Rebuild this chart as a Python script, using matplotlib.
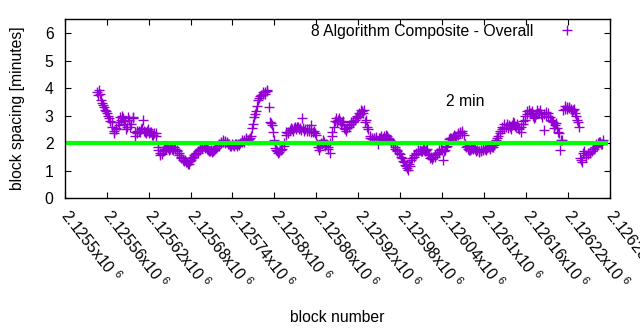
import matplotlib
matplotlib.use("Agg")
import matplotlib.pyplot as plt
import numpy as np

plt.rcParams['font.family'] = ['Liberation Sans', 'DejaVu Sans']
plt.rcParams['mathtext.default'] = 'regular'

# block numbers: first block, spacing between samples
FIRST_BLOCK = 2125546
BLOCK_STEP = 3

# block spacing in minutes (one cross every 3 blocks)
spacing = [
    3.85, 3.92, 3.55, 3.40, 3.20, 3.10, 2.90, 2.60, 2.36, 2.50,
    2.75, 2.95, 3.00, 2.70, 2.50, 2.95, 2.60, 2.90, 2.25, 2.35,
    2.45, 2.50, 2.83, 2.40, 2.45, 2.35, 2.40, 2.30, 2.35, 1.85,
    1.62, 1.60, 1.85, 1.80, 1.82, 1.78, 1.80, 1.85, 1.75, 1.65,
    1.45, 1.40, 1.38, 1.30, 1.25, 1.40, 1.50, 1.60, 1.70, 1.75,
    1.82, 1.90, 1.85, 1.75, 1.70, 1.68, 1.75, 1.82, 1.90, 2.05,
    2.10, 2.00, 2.05, 1.95, 1.90, 1.92, 1.95, 1.90, 1.92, 2.05,
    2.10, 2.15, 2.10, 2.18, 2.55, 2.95, 3.15, 3.55, 3.70, 3.80,
    3.85, 3.88, 3.30, 2.72, 2.40, 1.82, 1.70, 1.68, 1.75, 1.90,
    2.30, 2.40, 2.47, 2.52, 2.55, 2.50, 2.60, 2.55, 2.90, 2.45,
    2.50, 2.42, 2.65, 2.40, 2.35, 1.95, 1.75, 2.00, 2.10, 1.88,
    1.85, 1.62, 2.25, 2.60, 2.90, 2.85, 2.80, 2.75, 2.55, 2.45,
    2.60, 2.70, 2.80, 2.85, 3.00, 3.10, 3.20, 3.08, 2.75, 2.60,
    2.20, 2.15, 2.20, 2.22, 1.95, 2.18, 2.15, 2.25, 2.30, 2.20,
    2.10, 2.00, 1.86, 1.75, 1.65, 1.50, 1.35, 1.20, 1.08, 1.25,
    1.38, 1.55, 1.65, 1.70, 1.75, 1.72, 1.78, 1.74, 1.60, 1.45,
    1.42, 1.50, 1.60, 1.74, 1.80, 1.38, 1.75, 1.90, 2.15, 2.20,
    2.22, 2.25, 2.30, 2.35, 2.42, 2.30, 1.86, 1.80, 1.74, 1.82,
    1.86, 1.70, 1.68, 1.75, 1.74, 1.80, 1.81, 1.85, 1.90, 1.86,
    2.00, 2.18, 2.35, 2.50, 2.70, 2.60, 2.54, 2.60, 2.65, 2.72,
    2.60, 2.55, 2.41, 2.70, 2.85, 3.15, 3.20, 3.08, 3.00, 2.95,
    3.20, 3.10, 3.05, 2.47, 3.13, 3.00, 2.95, 2.80, 2.55, 2.72,
    2.40, 1.75, 2.10, 3.25, 3.30, 3.28, 3.22, 3.20, 3.10, 2.85,
    2.59, 1.38, 1.65, 1.56, 1.60, 1.62, 1.72, 1.80, 1.95, 2.00,
    2.05, 1.98,
]

# the blocks in between (one block later than the list above)
spacing_mid = [
    3.75, 3.80, 3.45, 3.30, 3.15, 3.00, 2.80, 2.75, 2.45, 2.55,
    2.65, 2.85, 2.90, 2.80, 2.60, 2.85, 2.70, 2.95, 2.40, 2.45,
    2.40, 2.55, 2.45, 2.35, 2.50, 2.40, 2.30, 2.35, 2.25, 1.75,
    1.55, 1.70, 1.80, 1.85, 1.75, 1.85, 1.75, 1.80, 1.70, 1.55,
    1.50, 1.35, 1.30, 1.25, 1.35, 1.45, 1.55, 1.65, 1.65, 1.80,
    1.85, 1.82, 1.80, 1.70, 1.75, 1.72, 1.80, 1.88, 1.95, 2.00,
    2.05, 2.08, 1.98, 1.90, 1.95, 1.88, 1.98, 1.95, 2.00, 2.10,
    2.05, 2.20, 2.15, 2.25, 2.70, 3.05, 3.35, 3.65, 3.75, 3.85,
    3.80, 3.92, 2.75, 2.65, 2.10, 1.75, 1.65, 1.75, 1.80, 2.00,
    2.40, 2.35, 2.55, 2.45, 2.60, 2.58, 2.50, 2.48, 2.55, 2.50,
    2.45, 2.50, 2.40, 2.45, 2.30, 1.85, 1.85, 1.95, 2.05, 1.95,
    1.80, 2.00, 2.40, 2.80, 2.75, 2.90, 2.70, 2.80, 2.50, 2.55,
    2.65, 2.75, 2.75, 2.90, 2.95, 3.05, 3.15, 3.20, 2.85, 2.50,
    2.25, 2.20, 2.15, 2.18, 2.20, 2.25, 2.20, 2.18, 2.25, 2.15,
    2.05, 1.95, 1.80, 1.70, 1.60, 1.45, 1.30, 1.15, 1.02, 1.18,
    1.45, 1.50, 1.60, 1.75, 1.70, 1.80, 1.70, 1.78, 1.55, 1.50,
    1.48, 1.55, 1.65, 1.68, 1.75, 1.72, 1.85, 2.05, 2.20, 2.15,
    2.28, 2.20, 2.35, 2.40, 2.38, 1.95, 1.90, 1.75, 1.80, 1.78,
    1.80, 1.75, 1.72, 1.70, 1.80, 1.76, 1.86, 1.80, 1.84, 1.92,
    2.10, 2.25, 2.45, 2.60, 2.55, 2.70, 2.65, 2.50, 2.75, 2.62,
    2.70, 2.50, 2.60, 2.80, 3.00, 3.05, 3.10, 3.15, 2.90, 3.05,
    3.10, 3.20, 2.95, 3.05, 3.00, 3.10, 2.85, 2.75, 2.65, 2.55,
    2.35, 2.10, 3.20, 3.35, 3.25, 3.30, 3.15, 3.25, 3.00, 2.75,
    1.45, 1.30, 1.70, 1.50, 1.65, 1.68, 1.78, 1.85, 1.90, 2.05,
    1.95, 2.10,
]

# 2 minute target line
target_blocks = [2125504, 2126275]
target_value = [2, 2]

x_min, x_max = 2125500, 2126280
tick_step = 60
FS = 11.3

blocks = FIRST_BLOCK + BLOCK_STEP * np.arange(len(spacing))
all_blocks = np.concatenate([blocks, blocks + 1])
all_spacing = np.concatenate([spacing, spacing_mid])
order = np.argsort(all_blocks)

fig = plt.figure(figsize=(6.4, 3.3), dpi=100)
ax = fig.add_axes([0.1011, 0.4, 0.852, 0.5415])

ax.plot(all_blocks[order], all_spacing[order], linestyle='none', marker='+',
        markersize=6.5, markeredgewidth=1.0, color='#9400d3',
        label='8 Algorithm Composite - Overall')
ax.plot(target_blocks, target_value, color='#00ff00', linewidth=3.0)

ax.set_xlim(x_min, x_max)
ax.set_ylim(0, 6.5)

ticks = np.arange(x_min, x_max + 1, tick_step)
ax.set_xticks(ticks)
ax.set_xticklabels(['%gx10 $^{6}$' % (t / 1e6) for t in ticks],
                   rotation=-52, ha='left', va='center',
                   rotation_mode='anchor', fontsize=FS)
ax.set_yticks(range(7))
ax.tick_params(axis='y', labelsize=FS, pad=8)
ax.tick_params(axis='x', pad=10)
ax.tick_params(direction='in', length=4.5, width=0.8, top=True, right=True)

for s in ax.spines.values():
    s.set_linewidth(1.0)

ax.set_xlabel('block number', fontsize=FS, labelpad=13)
ax.set_ylabel('block spacing [minutes]', fontsize=FS, labelpad=14)

ax.text(2126046, 3.5, '2 min', fontsize=FS, ha='left', va='center')

ax.legend(loc='upper right', bbox_to_anchor=(0.9615, 1.01), borderaxespad=0,
          frameon=False, markerfirst=False, handlelength=2.0,
          handletextpad=1.17, fontsize=FS)

fig.savefig('out.png', dpi=100)
